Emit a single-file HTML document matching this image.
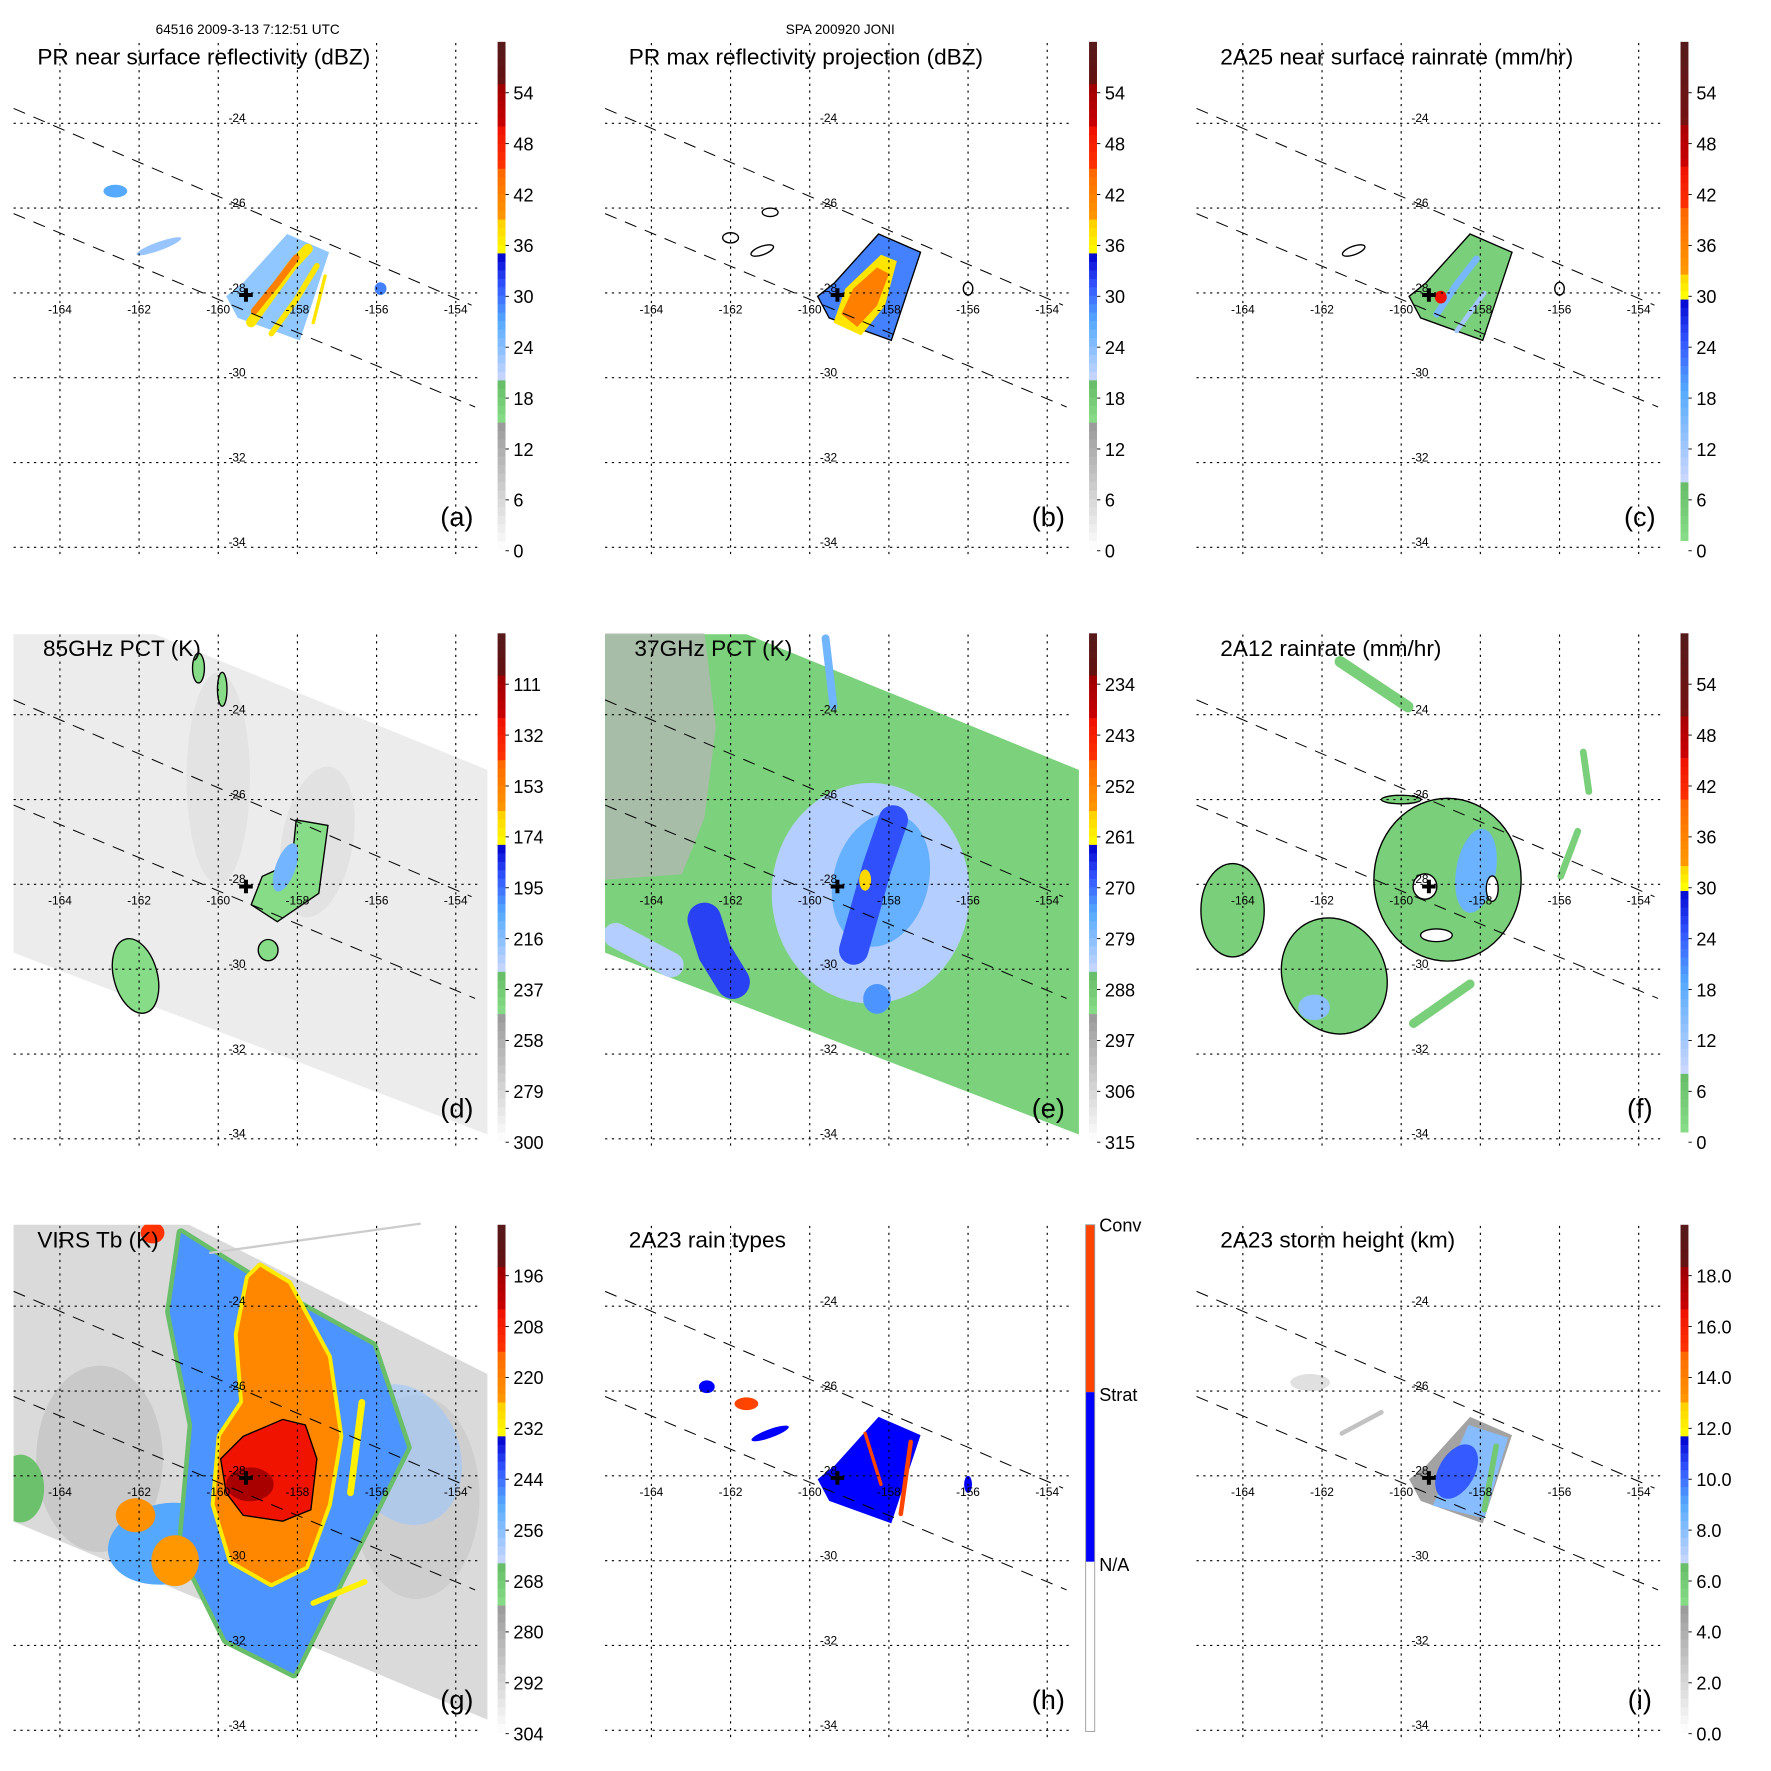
<!DOCTYPE html>
<html><head><meta charset="utf-8"><title>TRMM JONI 2009 panels</title>
<style>html,body{margin:0;padding:0;background:#fff}svg{display:block}text{font-family:"Liberation Sans",sans-serif}</style>
</head><body>
<svg id="fig" xmlns="http://www.w3.org/2000/svg" width="1771" height="1771" viewBox="0 0 1566 1566">
<rect width="1566" height="1566" fill="#fff"/>
<text x="219" y="30" font-size="12" text-anchor="middle">64516 2009-3-13 7:12:51 UTC</text>
<text x="743" y="30" font-size="12" text-anchor="middle">SPA 200920 JONI</text>
</svg>
<script>
// ---------- data ----------
const lonTicks = [-164,-162,-160,-158,-156,-154];
const latTicks = [-24,-26,-28,-30,-32,-34];
const stormCenter = [-159.3,-28.05];
const swathUpper = [[-165.17,-23.65],[-153.6,-28.29]];
const swathLower = [[-165.17,-26.13],[-153.51,-30.69]];
const tmiSwath = [[-165.2,-22.1],[-161.6,-22.1],[-153.2,-25.3],[-153.2,-33.9],[-165.2,-29.6]];
const virsSwath = [[-165.2,-22.05],[-160.8,-22.05],[-153.2,-25.6],[-153.2,-33.75],[-165.2,-29.07]];
const footprintPR = [[-158.26,-26.61],[-157.2,-27.04],[-157.94,-29.12],[-159.51,-28.59],[-159.8,-28.08],[-159.37,-27.76]];

const ticksA = ['54','48','42','36','30','24','18','12','6','0'];
const ticksC = ['54','48','42','36','30','24','18','12','6','0'];
const ticksD = ['111','132','153','174','195','216','237','258','279','300'];
const ticksE = ['234','243','252','261','270','279','288','297','306','315'];
const ticksG = ['196','208','220','232','244','256','268','280','292','304'];
const ticksI = ['18.0','16.0','14.0','12.0','10.0','8.0','6.0','4.0','2.0','0.0'];
const ticksH = ['Conv','Strat','N/A'];

const blobsA = [
 {t:'p',pts:footprintPR,v:27,op:0.65},
 {t:'l',pts:[[-159.17,-28.69],[-158.66,-28.03],[-158.14,-27.36],[-157.74,-26.96]],w:9,v:37},
 {t:'l',pts:[[-159.09,-28.43],[-158.51,-27.76],[-158.03,-27.17]],w:6,v:42},
 {t:'l',pts:[[-158.66,-28.96],[-158.03,-28.16],[-157.51,-27.36]],w:5,v:37},
 {t:'l',pts:[[-157.6,-28.7],[-157.3,-27.6]],w:3,v:37},
 {t:'e',c:[-161.5,-26.9],r:[0.6,0.1],rot:-20,v:23},
 {t:'e',c:[-162.6,-25.6],r:[0.3,0.15],rot:0,v:27},
 {t:'e',c:[-155.9,-27.9],r:[0.15,0.15],rot:0,v:29}
];
const blobsB = [
 {t:'p',pts:footprintPR,v:29,stroke:1},
 {t:'p',pts:[[-159.4,-28.7],[-159.1,-27.9],[-158.2,-27.1],[-157.8,-27.25],[-158.1,-28.3],[-158.7,-29.0]],v:37},
 {t:'p',pts:[[-159.2,-28.5],[-158.9,-27.9],[-158.3,-27.4],[-158.0,-27.55],[-158.3,-28.3],[-158.8,-28.8]],v:42},
 {t:'e',c:[-161.2,-27.0],r:[0.3,0.1],rot:-20,v:'#fff',stroke:1},
 {t:'e',c:[-162.0,-26.7],r:[0.2,0.12],rot:0,v:'#fff',stroke:1},
 {t:'e',c:[-161.0,-26.1],r:[0.2,0.1],rot:0,v:'#fff',stroke:1},
 {t:'e',c:[-156.0,-27.9],r:[0.12,0.15],rot:0,v:'#fff',stroke:1}
];
const blobsC = [
 {t:'p',pts:footprintPR,v:3,stroke:1},
 {t:'l',pts:[[-159.1,-28.5],[-158.6,-27.8],[-158.1,-27.2]],w:6,v:15},
 {t:'l',pts:[[-158.6,-28.9],[-157.9,-28.0]],w:4,v:11},
 {t:'e',c:[-159.0,-28.1],r:[0.15,0.15],rot:0,v:45},
 {t:'e',c:[-161.2,-27.0],r:[0.3,0.1],rot:-20,v:'#fff',stroke:1},
 {t:'e',c:[-156.0,-27.9],r:[0.12,0.15],rot:0,v:'#fff',stroke:1}
];
const blobsD = [
 {t:'p',pts:tmiSwath,v:290},
 {t:'e',c:[-160.0,-25.5],r:[0.8,2.5],rot:0,v:278,op:0.35},
 {t:'e',c:[-157.5,-27.0],r:[0.9,1.8],rot:10,v:278,op:0.4},
 {t:'p',pts:[[-158.03,-26.48],[-157.23,-26.61],[-157.46,-28.21],[-158.51,-28.88],[-159.17,-28.48],[-158.89,-27.81],[-158.14,-27.49]],v:247,stroke:1},
 {t:'e',c:[-158.3,-27.6],r:[0.25,0.6],rot:20,v:212},
 {t:'e',c:[-162.09,-30.16],r:[0.55,0.9],rot:-15,v:247,stroke:1},
 {t:'e',c:[-158.74,-29.55],r:[0.25,0.25],rot:0,v:247,stroke:1},
 {t:'e',c:[-160.5,-22.9],r:[0.15,0.35],rot:0,v:247,stroke:1},
 {t:'e',c:[-159.9,-23.4],r:[0.12,0.4],rot:0,v:247,stroke:1}
];
const blobsE = [
 {t:'p',pts:tmiSwath,v:290},
 {t:'p',pts:[[-165.17,-22.08],[-162.66,-22.08],[-162.37,-24.29],[-162.66,-26.43],[-163.23,-27.76],[-165.17,-27.89]],v:299,op:0.75},
 {t:'e',c:[-158.46,-28.21],r:[2.5,2.6],rot:0,v:283},
 {t:'e',c:[-158.2,-27.9],r:[1.2,1.6],rot:15,v:276},
 {t:'l',pts:[[-157.89,-26.48],[-158.3,-27.6],[-158.89,-29.55]],w:26,v:268},
 {t:'e',c:[-158.6,-27.9],r:[0.15,0.25],rot:0,v:258},
 {t:'l',pts:[[-162.66,-28.83],[-162.4,-29.6],[-161.94,-30.3]],w:30,v:267},
 {t:'l',pts:[[-164.9,-29.2],[-163.5,-29.9]],w:22,v:283},
 {t:'e',c:[-158.3,-30.7],r:[0.35,0.35],rot:0,v:273},
 {t:'l',pts:[[-159.6,-22.2],[-159.4,-23.8]],w:7,v:277}
];
const blobsF = [
 {t:'e',c:[-158.83,-27.89],r:[1.86,1.92],rot:0,v:3,stroke:1},
 {t:'e',c:[-158.11,-27.68],r:[0.5,1.0],rot:10,v:16},
 {t:'e',c:[-159.4,-28.05],r:[0.3,0.3],rot:0,v:'#fff',stroke:1},
 {t:'e',c:[-159.11,-29.2],r:[0.4,0.15],rot:0,v:'#fff',stroke:1},
 {t:'e',c:[-157.7,-28.1],r:[0.15,0.3],rot:0,v:'#fff',stroke:1},
 {t:'e',c:[-164.26,-28.61],r:[0.8,1.1],rot:0,v:3,stroke:1},
 {t:'e',c:[-161.69,-30.16],r:[1.3,1.4],rot:-25,v:3,stroke:1},
 {t:'e',c:[-162.2,-30.9],r:[0.4,0.3],rot:0,v:13},
 {t:'l',pts:[[-159.69,-31.28],[-158.26,-30.35]],w:8,v:3},
 {t:'l',pts:[[-161.54,-22.75],[-159.83,-23.81]],w:10,v:3},
 {t:'l',pts:[[-155.4,-24.88],[-155.26,-25.81]],w:6,v:3},
 {t:'l',pts:[[-155.54,-26.75],[-155.97,-27.81]],w:6,v:3},
 {t:'e',c:[-160.0,-26.0],r:[0.5,0.1],rot:0,v:3,stroke:1}
];
const blobsG = [
 {t:'p',pts:virsSwath,v:293},
 {t:'e',c:[-163.0,-27.6],r:[1.6,2.2],rot:0,v:284,op:0.55},
 {t:'e',c:[-155.0,-28.5],r:[1.6,2.4],rot:0,v:286,op:0.5},
 {t:'e',c:[-165.0,-28.3],r:[0.6,0.8],rot:0,v:266},
 {t:'e',c:[-161.3,-29.6],r:[1.5,0.95],rot:-10,v:250},
 {t:'e',c:[-155.3,-27.5],r:[1.4,1.7],rot:-20,v:258,op:0.55},
 {t:'p',pts:[[-160.94,-22.27],[-158.66,-23.6],[-156.09,-24.93],[-155.23,-27.33],[-156.66,-30.0],[-158.09,-32.67],[-159.8,-31.87],[-160.94,-29.73],[-160.66,-26.8],[-161.23,-24.13]],v:248,edge:265,ew:8},
 {t:'p',pts:[[-158.94,-23.07],[-158.23,-23.47],[-157.23,-25.2],[-156.94,-27.07],[-157.23,-28.67],[-157.8,-30.13],[-158.66,-30.53],[-159.66,-30.0],[-160.09,-28.67],[-159.94,-27.07],[-159.37,-26.27],[-159.51,-24.67],[-159.23,-23.33]],v:222,edge:231,ew:7},
 {t:'p',pts:[[-159.94,-27.6],[-159.37,-27.07],[-158.37,-26.67],[-157.8,-26.8],[-157.51,-27.6],[-157.66,-28.8],[-158.37,-29.07],[-159.37,-28.93],[-159.8,-28.4]],v:205,stroke:1},
 {t:'e',c:[-159.2,-28.2],r:[0.6,0.4],rot:0,v:197},
 {t:'e',c:[-162.09,-28.93],r:[0.5,0.4],rot:0,v:224},
 {t:'e',c:[-161.09,-30.0],r:[0.6,0.6],rot:0,v:226},
 {t:'e',c:[-161.66,-22.27],r:[0.3,0.25],rot:0,v:214},
 {t:'l',pts:[[-156.37,-26.27],[-156.66,-28.4]],w:6,v:232},
 {t:'l',pts:[[-157.6,-31.0],[-156.3,-30.5]],w:5,v:232}
];
const blobsH = [
 {t:'p',pts:footprintPR,v:1.5},
 {t:'l',pts:[[-157.45,-27.2],[-157.7,-28.9]],w:4,v:2.5},
 {t:'l',pts:[[-158.6,-27.0],[-158.2,-28.2]],w:3,v:2.5},
 {t:'e',c:[-161.6,-26.3],r:[0.3,0.15],rot:0,v:2.5},
 {t:'e',c:[-162.6,-25.9],r:[0.2,0.15],rot:0,v:1.5},
 {t:'e',c:[-156.0,-28.2],r:[0.1,0.2],rot:0,v:1.5},
 {t:'e',c:[-161.0,-27.0],r:[0.5,0.1],rot:-20,v:1.5}
];
const blobsI = [
 {t:'p',pts:footprintPR,v:4.5},
 {t:'p',pts:[[-158.3,-26.8],[-157.3,-27.1],[-157.9,-29.0],[-159.2,-28.7]],v:8},
 {t:'e',c:[-158.6,-27.9],r:[0.45,0.7],rot:30,v:10.3},
 {t:'l',pts:[[-157.6,-27.3],[-157.9,-28.8]],w:5,v:6},
 {t:'l',pts:[[-161.5,-27.0],[-160.5,-26.5]],w:4,v:3},
 {t:'e',c:[-162.3,-25.8],r:[0.5,0.2],rot:0,v:2.5,op:0.6}
];

// ---------- rendering ----------
const NS='http://www.w3.org/2000/svg';
const svg=document.getElementById('fig');
const mapA=[[0,'#ffffff'],[0.25,'#999999'],[0.2501,'#88dd88'],[0.333,'#66bb66'],[0.3331,'#ccd8ff'],[0.45,'#55aaff'],[0.52,'#3355ff'],[0.583,'#0000cc'],[0.5831,'#ffff00'],[0.65,'#ffcc00'],[0.6501,'#ff9900'],[0.75,'#ff6600'],[0.7501,'#ff3300'],[0.833,'#ee1100'],[0.8331,'#cc0000'],[0.92,'#990000'],[0.9201,'#661111'],[1,'#551a1a']];
const mapC=[[0,'#88dd88'],[0.12,'#66bb66'],[0.1201,'#ccd8ff'],[0.3,'#55aaff'],[0.4,'#3355ff'],[0.49,'#0000cc'],[0.4901,'#ffff00'],[0.54,'#ffcc00'],[0.5401,'#ff9900'],[0.66,'#ff6600'],[0.6601,'#ff3300'],[0.75,'#ee1100'],[0.7501,'#cc0000'],[0.83,'#aa0000'],[0.8301,'#771111'],[1,'#551a1a']];
const mapH=[[0,'#ffffff'],[0.333,'#ffffff'],[0.3331,'#0000ff'],[0.666,'#0000ff'],[0.6661,'#ff4400'],[1,'#ff4400']];
function hex(c){return [parseInt(c.substr(1,2),16),parseInt(c.substr(3,2),16),parseInt(c.substr(5,2),16)];}
function cmap(stops,f){f=Math.max(0,Math.min(1,f));for(let i=1;i<stops.length;i++){if(f<=stops[i][0]){const a=stops[i-1],b=stops[i];const t=(f-a[0])/((b[0]-a[0])||1);const A=hex(a[1]),B=hex(b[1]);return 'rgb('+A.map((v,k)=>Math.round(v+(B[k]-v)*t)).join(',')+')';}}return stops[stops.length-1][1];}
function mk(tag,attrs,parent){const e=document.createElementNS(NS,tag);for(const k in attrs)e.setAttribute(k,attrs[k]);(parent||svg).appendChild(e);return e;}
function xOf(lon){return 53+(lon+164)*35;}
function yOf(lat){return 109+(-24-lat)*37.5;}

const panels=[
 {k:'a',dx:0,dy:0,title:'PR near surface reflectivity (dBZ)',map:mapA,v0:0,v1:59.9,ticks:ticksA,blobs:blobsA},
 {k:'b',dx:523,dy:0,title:'PR max reflectivity projection (dBZ)',map:mapA,v0:0,v1:59.9,ticks:ticksA,blobs:blobsB},
 {k:'c',dx:1046,dy:0,title:'2A25 near surface rainrate (mm/hr)',map:mapC,v0:0,v1:60,ticks:ticksC,blobs:blobsC,barBot:478},
 {k:'d',dx:0,dy:523,title:'85GHz PCT (K)',map:mapA,v0:300,v1:90.5,ticks:ticksD,blobs:blobsD},
 {k:'e',dx:523,dy:523,title:'37GHz PCT (K)',map:mapA,v0:315,v1:225.2,ticks:ticksE,blobs:blobsE},
 {k:'f',dx:1046,dy:523,title:'2A12 rainrate (mm/hr)',map:mapC,v0:0,v1:60,ticks:ticksC,blobs:blobsF,barBot:478},
 {k:'g',dx:0,dy:1046,title:'VIRS Tb (K)',map:mapA,v0:304,v1:184.3,ticks:ticksG,blobs:blobsG},
 {k:'h',dx:523,dy:1046,title:'2A23 rain types',map:mapH,v0:0,v1:3,ticks:ticksH,blobs:blobsH,rainType:true},
 {k:'i',dx:1046,dy:1046,title:'2A23 storm height (km)',map:mapA,v0:0,v1:19.96,ticks:ticksI,blobs:blobsI}
];

const defs=mk('defs',{});
panels.forEach(P=>{
 const col=v=>typeof v==='string'?v:cmap(P.map,(v-P.v0)/(P.v1-P.v0));
 const g=mk('g',{transform:'translate('+P.dx+','+P.dy+')'});
 
 
 const cp=mk('clipPath',{id:'clip-'+P.k},defs);
 mk('rect',{x:12,y:37,width:420,height:455},cp);
 const map=mk('g',{'clip-path':'url(#clip-'+P.k+')'},g);
 
 
 P.blobs.forEach((b,i)=>{
  let el;
  if(b.t==='p'){
   const pts=b.pts.map(p=>xOf(p[0]).toFixed(1)+','+yOf(p[1]).toFixed(1)).join(' ');
   if(b.edge!==undefined){const e2=mk('polygon',{points:pts,fill:'none',stroke:col(b.edge),'stroke-width':b.ew,'stroke-linejoin':'round'},map);}
   el=mk('polygon',{points:pts,fill:col(b.v)},map);
  } else if(b.t==='e'){
   el=mk('ellipse',{cx:xOf(b.c[0]),cy:yOf(b.c[1]),rx:b.r[0]*35,ry:b.r[1]*37.5,fill:col(b.v),transform:'rotate('+b.rot+' '+xOf(b.c[0])+' '+yOf(b.c[1])+')'},map);
  } else {
   const pts=b.pts.map(p=>xOf(p[0]).toFixed(1)+','+yOf(p[1]).toFixed(1)).join(' ');
   el=mk('polyline',{points:pts,fill:'none',stroke:col(b.v),'stroke-width':b.w,'stroke-linecap':'round','stroke-linejoin':'round'},map);
  }
  if(b.op)el.setAttribute('opacity',b.op);
  if(b.stroke){el.setAttribute('stroke','#000');el.setAttribute('stroke-width','1.2');}
  
  
 });
 if(P.k==='g'){const ln=mk('line',{x1:185,y1:62,x2:372,y2:36,stroke:'#ccc','stroke-width':2},g);}
 lonTicks.forEach(lon=>{const l=mk('line',{x1:xOf(lon),y1:38,x2:xOf(lon),y2:490,stroke:'#000','stroke-width':1,'stroke-dasharray':'2,4'},g);
  const t=mk('text',{x:xOf(lon),y:277,'font-size':10.5,'text-anchor':'middle'},g);t.textContent=String(lon);});
 latTicks.forEach(lat=>{const l=mk('line',{x1:12,y1:yOf(lat),x2:426,y2:yOf(lat),stroke:'#000','stroke-width':1,'stroke-dasharray':'2,4'},g);
  const t=mk('text',{x:202,y:yOf(lat)-1,'font-size':10.5},g);t.textContent=String(lat);});
 [swathUpper,swathLower].forEach(s=>{const l=mk('line',{x1:xOf(s[0][0]),y1:yOf(s[0][1]),x2:xOf(s[1][0]),y2:yOf(s[1][1]),stroke:'#000','stroke-width':0.9,'stroke-dasharray':'11,8'},g);});
 const cx=xOf(stormCenter[0]),cy=yOf(stormCenter[1]);
 const cr=mk('path',{d:'M'+(cx-6)+' '+cy+'H'+(cx+6)+'M'+cx+' '+(cy-6)+'V'+(cy+6),stroke:'#000','stroke-width':3.5},g);
 
 const tt=mk('text',{x:P.k==='d'||P.k==='e'?38:33,y:57,'font-size':20},g);tt.textContent=P.title;
 const lt=mk('text',{x:404,y:465,'font-size':24,'text-anchor':'middle'},g);lt.textContent='('+P.k+')';
 const cb=mk('g',{},g);
 if(P.rainType){
  [[37,185,'#ff4400'],[185,335,'#0000ff'],[335,485,'#ffffff']].forEach(s=>{const r=mk('rect',{x:437,y:s[0],width:8,height:s[1]-s[0],fill:s[2]},cb);});
  const bd=mk('rect',{x:437,y:37,width:8,height:448,fill:'none',stroke:'#999','stroke-width':0.8},cb);
  P.ticks.forEach((s,i)=>{const t=mk('text',{x:449,y:43+150*i,'font-size':16},cb);t.textContent=s;});
 } else {
  const bot=P.barBot||486,top=37,n=60;
  for(let i=0;i<n;i++){const y0=top+(bot-top)*i/n;const f=1-(i+0.5)/n;const r=mk('rect',{x:440,y:y0.toFixed(2),width:7,height:((bot-top)/n+0.4).toFixed(2),fill:cmap(P.map,f)},cb);}
  P.ticks.forEach((s,i)=>{const y=82+45*i;const tk=mk('line',{x1:447,y1:y,x2:450,y2:y,stroke:'#000','stroke-width':0.8},cb);
   const t=mk('text',{x:454,y:y+6,'font-size':16},cb);t.textContent=s;});
 }
});
</script>
</body></html>
